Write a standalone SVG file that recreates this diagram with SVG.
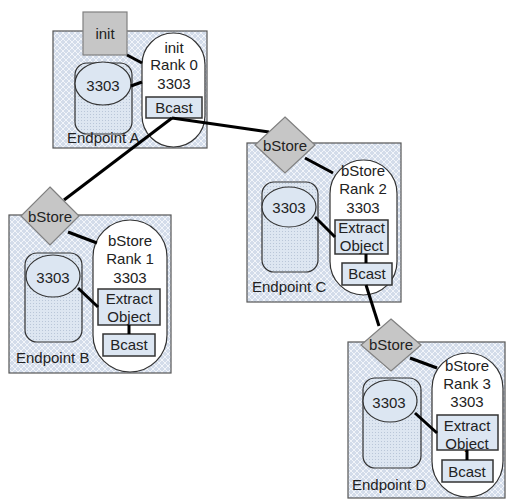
<svg xmlns="http://www.w3.org/2000/svg" width="507" height="500" viewBox="0 0 507 500">
<defs>
<pattern id="hatch" patternUnits="userSpaceOnUse" width="6" height="6">
<rect width="6" height="6" fill="#d3dcea"/>
<path d="M0,0 L6,6 M6,0 L0,6" stroke="#f2f5fa" stroke-width="1"/>
</pattern>
<pattern id="dots" patternUnits="userSpaceOnUse" width="3" height="3">
<rect width="3" height="3" fill="#dde6f1"/>
<rect width="1" height="1" fill="#b9c6d8"/>
</pattern>
<style>
.box{fill:url(#hatch);stroke:#555;stroke-width:1.2}
.oval{fill:#fff;stroke:#333;stroke-width:1.2}
.cyl{fill:url(#dots);stroke:#333;stroke-width:1.2}
.ell{fill:#dce6f2;stroke:#333;stroke-width:1.2}
.r{fill:#dce6f2;stroke:#333;stroke-width:1.5}
.dia{fill:#c6c6c6;stroke:#808080;stroke-width:1.2}
.c{stroke:#000;stroke-width:3;fill:none}
text{font-family:"Liberation Sans",Arial,sans-serif;font-size:15px;fill:#222}
.m{text-anchor:middle;dominant-baseline:central}
</style>
</defs>

<g id="endpointA">
<rect class="box" x="53" y="31" width="154" height="117"/>
<rect class="cyl" x="75" y="63" width="57" height="71" rx="12"/>
<ellipse class="ell" cx="103" cy="83.5" rx="28" ry="21.5"/>
<text class="m" x="103" y="85">3303</text>
<rect class="oval" x="142" y="33" width="63" height="114" rx="31.5"/>
<text class="m" x="174" y="47">init</text>
<text class="m" x="174" y="64">Rank 0</text>
<text class="m" x="174" y="83">3303</text>
<rect class="r" x="146" y="97" width="56" height="21"/>
<text class="m" x="174" y="107">Bcast</text>
<text x="67" y="143">Endpoint A</text>
</g>
<g id="initA">
<rect class="dia" x="83" y="12" width="44" height="43"/>
<text class="m" x="105" y="33">init</text>
</g>

<g id="endpointB">
<rect class="box" x="9" y="215" width="162" height="158"/>
<rect class="cyl" x="25" y="253" width="57" height="89" rx="12"/>
<ellipse class="ell" cx="53" cy="276" rx="27" ry="21"/>
<text class="m" x="53" y="277">3303</text>
<rect class="oval" x="93" y="220" width="74" height="152" rx="37"/>
<text class="m" x="130" y="240">bStore</text>
<text class="m" x="130" y="258">Rank 1</text>
<text class="m" x="130" y="277">3303</text>
<rect class="r" x="98" y="289" width="62" height="36"/>
<text class="m" x="129" y="298">Extract</text>
<text class="m" x="129" y="316">Object</text>
<rect class="r" x="103" y="334" width="52" height="22"/>
<text class="m" x="129" y="344">Bcast</text>
<text x="16" y="363">Endpoint B</text>
</g>

<g id="endpointC">
<rect class="box" x="247" y="143" width="154" height="159"/>
<rect class="cyl" x="262" y="182" width="56" height="90" rx="12"/>
<ellipse class="ell" cx="289" cy="207" rx="27" ry="20"/>
<text class="m" x="289" y="207">3303</text>
<rect class="oval" x="330" y="160" width="67" height="135" rx="33.5"/>
<text class="m" x="363" y="170">bStore</text>
<text class="m" x="363" y="188">Rank 2</text>
<text class="m" x="363" y="207">3303</text>
<rect class="r" x="335" y="220" width="53" height="34"/>
<text class="m" x="361.5" y="227">Extract</text>
<text class="m" x="361.5" y="245">Object</text>
<rect class="r" x="342" y="263" width="50" height="22"/>
<text class="m" x="367" y="273">Bcast</text>
<text x="252" y="292">Endpoint C</text>
</g>

<g id="endpointD">
<rect class="box" x="348" y="342" width="157" height="156"/>
<rect class="cyl" x="363" y="378" width="58" height="90" rx="12"/>
<ellipse class="ell" cx="390" cy="401" rx="27" ry="21"/>
<text class="m" x="389" y="402">3303</text>
<rect class="oval" x="432" y="353" width="71" height="144" rx="35.5"/>
<text class="m" x="467" y="365">bStore</text>
<text class="m" x="467" y="383">Rank 3</text>
<text class="m" x="467" y="401">3303</text>
<rect class="r" x="437" y="415" width="61" height="35"/>
<text class="m" x="467" y="425">Extract</text>
<text class="m" x="467" y="443">Object</text>
<rect class="r" x="442" y="460" width="51" height="22"/>
<text class="m" x="467" y="471">Bcast</text>
<text x="352" y="490">Endpoint D</text>
</g>

<g id="connectors">
<line class="c" x1="127" y1="55" x2="142" y2="63"/>
<line class="c" x1="131" y1="86" x2="142" y2="82"/>
<line class="c" x1="172" y1="118" x2="64" y2="200"/>
<line class="c" x1="172" y1="118" x2="269" y2="132"/>
<line class="c" x1="366" y1="285" x2="379" y2="326"/>
<line class="c" x1="68" y1="232" x2="97" y2="243"/>
<line class="c" x1="78" y1="288" x2="98" y2="307"/>
<line class="c" x1="129" y1="325" x2="129" y2="334"/>
<line class="c" x1="305" y1="158" x2="333" y2="173"/>
<line class="c" x1="315" y1="217" x2="335" y2="237"/>
<line class="c" x1="366" y1="254" x2="366" y2="263"/>
<line class="c" x1="410" y1="358" x2="437" y2="368"/>
<line class="c" x1="415" y1="413" x2="437" y2="433"/>
<line class="c" x1="467" y1="450" x2="467" y2="460"/>
</g>

<g id="bStoreB">
<polygon class="dia" points="50,187 79,216 50,245 21,216"/>
<text class="m" x="50" y="216">bStore</text>
</g>
<g id="bStoreC">
<polygon class="dia" points="285,117 315,145 285,173 255,145"/>
<text class="m" x="285" y="145">bStore</text>
</g>
<g id="bStoreD">
<polygon class="dia" points="391,319 421,345 391,371 361,345"/>
<text class="m" x="391" y="344">bStore</text>
</g>
</svg>
